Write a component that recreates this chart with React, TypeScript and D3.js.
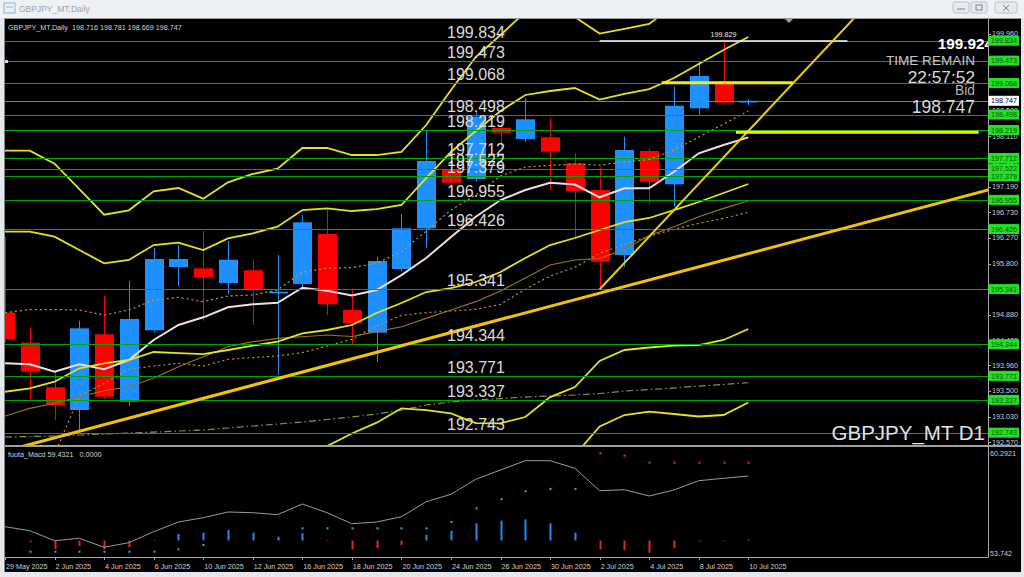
import React from "react";
import * as d3 from "d3";

const symbol = "GBPJPY_MT";
const dates = ["29 May 2025","30 May 2025","2 Jun 2025","3 Jun 2025","4 Jun 2025","5 Jun 2025","6 Jun 2025","9 Jun 2025","10 Jun 2025","11 Jun 2025","12 Jun 2025","13 Jun 2025","16 Jun 2025","17 Jun 2025","18 Jun 2025","19 Jun 2025","20 Jun 2025","23 Jun 2025","24 Jun 2025","25 Jun 2025","26 Jun 2025","27 Jun 2025","30 Jun 2025","1 Jul 2025","2 Jul 2025","3 Jul 2025","4 Jul 2025","7 Jul 2025","8 Jul 2025","9 Jul 2025","10 Jul 2025"];

const opens = [194.914,194.371,193.564,193.153,194.523,193.304,194.595,195.740,195.717,195.451,195.681,195.265,195.433,196.337,194.962,194.552,195.704,196.440,197.495,197.332,198.255,198.056,198.087,197.616,197.133,195.957,197.839,197.236,198.611,199.092,198.716];
const highs = [196.288,194.642,193.841,194.769,195.216,195.487,196.089,196.133,196.392,196.211,195.861,195.957,196.681,196.771,195.324,195.927,196.699,198.201,197.530,198.550,198.400,198.792,198.430,197.797,197.526,198.097,197.888,199.002,199.454,199.829,198.781];
const lows = [194.380,193.352,192.973,192.792,193.347,193.231,194.559,195.397,194.769,195.246,194.691,193.787,195.373,194.872,194.329,194.022,195.668,196.079,197.230,197.280,197.857,198.007,197.133,196.288,195.355,195.746,196.875,196.831,198.490,198.680,198.669];
const closes = [194.432,193.846,193.244,194.631,193.394,194.800,195.885,195.885,195.559,195.872,195.337,195.293,196.549,195.066,194.722,195.849,196.440,197.658,197.265,198.459,198.170,198.412,197.826,197.115,195.836,197.857,197.283,198.658,199.195,198.716,198.747];

// indicator bands / moving averages
const bandUpperOuter = [197.844,197.844,197.609,197.151,196.686,196.766,197.110,197.169,196.976,197.272,197.423,197.518,197.893,197.893,197.766,197.766,197.821,198.309,198.942,199.539,199.937,200.353,200.534,200.263,199.964,200.046,200.136,200.480,200.842,201.020,201.110];
const bandUpperInner = [196.379,196.379,196.288,196.048,195.807,195.867,196.138,196.180,196.048,196.259,196.350,196.469,196.771,196.802,196.753,196.789,196.862,197.350,197.821,198.200,198.562,198.852,198.924,198.978,198.770,198.870,198.960,199.159,199.413,199.666,199.901];
const bandLowerInner = [193.484,193.546,193.665,193.908,193.998,194.058,194.203,194.184,194.166,194.239,194.317,194.389,194.541,194.601,194.691,194.908,195.089,195.288,195.360,195.469,195.650,195.903,196.138,196.265,196.410,196.554,196.627,196.771,196.916,197.079,197.242];
const bandLowerOuter = [191.978,191.978,191.923,191.833,191.742,191.760,191.887,191.923,191.887,191.996,192.068,192.140,192.285,192.502,192.728,192.924,193.184,193.153,193.094,192.918,192.913,193.027,193.388,193.569,194.040,194.239,194.284,194.317,194.329,194.420,194.619];
const bandLowest = [null,null,null,null,null,null,null,null,null,null,null,null,null,null,null,null,null,null,null,null,null,null,191.900,192.339,192.855,193.063,193.123,193.081,193.036,193.063,193.289];
const maFast = [193.998,193.980,193.846,193.980,193.890,194.058,194.420,194.691,194.830,195.011,195.065,195.094,195.366,195.311,195.225,195.324,195.595,195.903,196.283,196.650,196.952,197.133,197.265,197.233,197.001,197.164,197.164,197.464,197.797,197.947,198.086];
const maSlow = [193.045,193.184,193.275,193.394,193.502,193.575,193.727,193.937,194.118,194.298,194.389,194.450,194.479,194.510,194.483,194.570,194.660,194.812,194.962,195.113,195.306,195.541,195.776,195.867,195.894,196.057,196.310,196.469,196.650,196.802,196.934];
const dottedUpper = [194.913,194.971,194.971,194.962,194.872,194.962,195.143,195.192,195.113,195.216,195.234,195.324,195.650,195.717,195.731,195.807,196.017,196.391,196.771,197.043,197.386,197.549,197.576,197.604,197.585,197.640,197.685,197.857,198.092,198.327,198.562];
const dottedLower = [191.900,192.100,192.350,193.407,193.636,193.890,193.949,193.998,193.949,194.070,194.101,194.130,194.192,194.311,194.432,194.673,194.866,194.915,194.944,194.975,195.065,195.337,195.577,195.735,195.988,196.151,196.296,196.422,196.531,196.621,196.730];
const dashDot = [192.665,192.674,192.683,192.701,192.719,192.737,192.755,192.773,192.792,192.828,192.864,192.900,192.936,192.982,193.027,193.081,193.153,193.244,193.298,193.334,193.361,193.388,193.407,193.425,193.452,193.497,193.524,193.551,193.587,193.615,193.647];

// horizontal levels (objects)
const levels = [199.834,199.473,199.068,198.498,198.219,197.712,197.522,197.379,196.955,196.426,195.341,194.344,193.771,193.337,192.743];
const axisTicks = [199.960,199.500,199.040,198.580,198.110,197.650,197.190,196.730,196.270,195.800,195.340,194.880,194.420,193.960,193.500,193.030,192.570];
const bidPrice = 198.747;
const highMark = { from: 24, to: 34, price: 199.829, labelAt: 29 };
const yellowSegments = [
  { from: 26.5, to: 31.8, price: 199.074 },
  { from: 29.5, to: 39.3, price: 198.177 },
];
const trendLines = [
  { a: { i: 24, p: 195.337 }, b: { i: 35, p: 200.59 }, w: 2, c: "#e8d200" },
  { a: { i: -1, p: 192.293 }, b: { i: 40, p: 197.172 }, w: 3, c: "#f2c400" },
];
const infoTexts = { price: "199.924", timeLabel: "TIME REMAIN", time: "22:57:52", bidLabel: "Bid" };

// MACD panel
const macdName = "fuuta_Macd";
const macdReadout = ["59.4321", "0.0000"];
const macdAxis = [60.2921, 53.742];
const macdZero = 54.682;
const macdLine = [55.519,55.276,54.670,54.815,54.270,54.549,55.216,55.804,56.065,56.411,56.368,56.247,56.896,56.368,55.701,55.804,56.125,57.035,57.484,58.394,58.958,59.522,59.522,59.061,57.702,57.763,57.381,57.745,58.309,58.454,58.594];
const macdHist = [null,-0.10,-0.515,-0.334,-0.534,-0.412,-0.03,0.394,0.473,0.637,0.473,0.230,0.437,-0.03,-0.534,-0.473,-0.273,0.334,0.594,1.043,1.201,1.286,1.043,0.473,-0.534,-0.576,-0.740,-0.473,-0.06,0.03,0.05];
const macdUpDots = [null,54.003,54.003,54.003,54.003,54.003,54.003,54.148,54.409,null,null,null,55.422,55.422,55.422,55.422,55.422,55.422,55.804,56.635,57.187,57.666,57.805,57.805,null,null,null,null,null,null,null];
const macdDownDots = [null,null,null,null,null,null,null,null,null,null,null,null,null,null,null,null,null,null,null,null,null,null,null,null,59.971,59.825,59.401,59.401,59.401,59.401,59.401];

const F = "'Liberation Sans', Arial, sans-serif";

export default function App() {
  React.useEffect(() => {
    document.body.style.margin = "0";
  }, []);

  const W = 1024, H = 577;
  const plot = { l: 5, r: 988, t: 19, b: 445 };
  const mp = { t: 447.5, b: 557 };

  const x = d3.scaleLinear().domain([0, 30]).range([5, 748.3]);
  const y = d3.scaleLinear().domain([192.743, 199.834]).range([432.7, 40.7]);
  const ym = d3.scaleLinear().domain([53.742, 60.2921]).range([556, 448]);

  const mkLine = (arr: (number | null)[], sc: (v: number) => number) =>
    d3.line<number | null>().defined((d) => d != null).x((_, i) => x(i)).y((d) => sc(d as number))(arr) || "";

  const last = opens.length - 1;
  const header = `${symbol},Daily  ${opens[last].toFixed(3)} ${highs[last].toFixed(3)} ${lows[last].toFixed(3)} ${closes[last].toFixed(3)}`;
  const bw = 19;

  return (
    <svg width={W} height={H} style={{ position: "absolute", left: 0, top: 0, display: "block" }} fontFamily={F}>
      <defs>
        <clipPath id="mainClip"><rect x={plot.l} y={plot.t} width={plot.r - plot.l} height={plot.b - plot.t} /></clipPath>
        <clipPath id="macdClip"><rect x={plot.l} y={mp.t} width={plot.r - plot.l} height={mp.b - mp.t} /></clipPath>
      </defs>
      {/* window frame */}
      <rect x={0} y={0} width={W} height={H} fill="#e4e8ec" />
      <rect x={0} y={0} width={W} height={18} fill="#eef1f4" />
      <rect x={4} y={3} width={11} height={10} fill="none" stroke="#8fb0d0" strokeWidth={1} />
      <line x1={6} x2={13} y1={7} y2={7} stroke="#8fb0d0" />
      <text x={19} y={12} fontSize={8.5} fill="#9aa3ad">{symbol},Daily</text>
      {[{ x: 953, w: 16 }, { x: 971, w: 16 }, { x: 995, w: 22 }].map((b, k) => (
        <rect key={k} x={b.x} y={2} width={b.w} height={11} rx={2} fill="#e6eaee" stroke="#b8c0c8" />
      ))}
      <line x1={957} x2={965} y1={9} y2={9} stroke="#7a8590" />
      <rect x={976} y={5} width={6} height={5} fill="none" stroke="#7a8590" />
      <path d="M1003,5 L1009,11 M1009,5 L1003,11" stroke="#7a8590" />

      {/* black chart area */}
      <rect x={5} y={19} width={1016} height={553} fill="#000" />
      <line x1={4.5} x2={4.5} y1={18} y2={572} stroke="#8a8a8a" />
      <line x1={4} x2={1021} y1={18.5} y2={18.5} stroke="#9a9a9a" />

      {/* main plot */}
      <g clipPath="url(#mainClip)">
        {/* candles */}
        {opens.map((o, i) => {
          const c = closes[i];
          const up = c >= o;
          const col = up ? "#1e90ff" : "#ff0000";
          const cx = Math.round(x(i)) + 0.5;
          const top = y(Math.max(o, c));
          const bot = y(Math.min(o, c));
          return (
            <g key={i}>
              <line x1={cx} x2={cx} y1={y(highs[i])} y2={y(lows[i])} stroke={col} strokeWidth={1} />
              <rect x={cx - bw / 2} y={top} width={bw} height={Math.max(1.5, bot - top)} fill={col} />
            </g>
          );
        })}
        {/* indicators */}
        <path d={mkLine(dashDot, y)} fill="none" stroke="#7c9a3a" strokeWidth={1.2} strokeDasharray="7,3,1.5,3" />
        <path d={mkLine(dottedLower, y)} fill="none" stroke="#c8961e" strokeWidth={1.2} strokeDasharray="2,3" />
        <path d={mkLine(dottedUpper, y)} fill="none" stroke="#d29a22" strokeWidth={1.2} strokeDasharray="2,3" />
        <path d={mkLine(maSlow, y)} fill="none" stroke="#9a7420" strokeWidth={1.2} />
        <path d={mkLine(maFast, y)} fill="none" stroke="#f2dede" strokeWidth={2} />
        {[bandUpperOuter, bandUpperInner, bandLowerInner, bandLowerOuter, bandLowest].map((b, k) => (
          <path key={k} d={mkLine(b, y)} fill="none" stroke="#e4e41c" strokeWidth={1.8} />
        ))}
        {/* horizontal level lines */}
        {levels.map((lv, k) => (
          <line key={k} x1={plot.l} x2={plot.r} y1={Math.round(y(lv)) + 0.5} y2={Math.round(y(lv)) + 0.5} stroke="#00a800" strokeWidth={1} />
        ))}
        <line x1={plot.l} x2={plot.r} y1={Math.round(y(bidPrice)) + 0.5} y2={Math.round(y(bidPrice)) + 0.5} stroke="#808080" strokeWidth={1} />
        <rect x={5} y={Math.round(y(levels[1])) - 1} width={3} height={3} fill="#a0ffa0" />
        {/* high marker */}
        <line x1={x(highMark.from)} x2={x(highMark.to)} y1={y(highMark.price)} y2={y(highMark.price)} stroke="#ffffff" strokeWidth={1.5} />
        <text x={x(highMark.labelAt)} y={y(highMark.price) - 4} fontSize={7.2} fill="#e8e8e8" textAnchor="middle">{highMark.price.toFixed(3)}</text>
        {/* trend lines */}
        {trendLines.map((t, k) => (
          <line key={k} x1={x(t.a.i)} y1={y(t.a.p)} x2={x(t.b.i)} y2={y(t.b.p)} stroke={t.c} strokeWidth={t.w} />
        ))}
        {yellowSegments.map((s, k) => (
          <line key={k} x1={x(s.from)} x2={x(s.to)} y1={y(s.price)} y2={y(s.price)} stroke="#f4f000" strokeWidth={3} />
        ))}
        {/* level labels */}
        {levels.map((lv, k) => (
          <text key={k} x={447} y={y(lv) - 3} fontSize={16} fill="#dadada">{lv.toFixed(3)}</text>
        ))}
        {/* info block */}
        <text x={993} y={48.5} fontSize={15.3} fontWeight="bold" fill="#ffffff" textAnchor="end">{infoTexts.price}</text>
        <text x={975} y={65} fontSize={13.6} fill="#c4c4c4" textAnchor="end">{infoTexts.timeLabel}</text>
        <text x={975} y={83} fontSize={17.3} fill="#d8d8d8" textAnchor="end">{infoTexts.time}</text>
        <text x={975} y={95} fontSize={13.8} fill="#b4b4b4" textAnchor="end">{infoTexts.bidLabel}</text>
        <text x={975} y={113} fontSize={17.5} fill="#d8d8d8" textAnchor="end">{bidPrice.toFixed(3)}</text>
        <text x={985} y={440} fontSize={20.5} fill="#e2e2e2" textAnchor="end">{symbol} D1</text>
        <path d="M785,19 L793,19 L789,23 Z" fill="#a0a0a0" />
        <text x={8} y={30} fontSize={7.2} fill="#d4d4d4" style={{ whiteSpace: "pre" }}>{header}</text>
      </g>

      {/* panel separator */}
      <rect x={5} y={445} width={1016} height={2} fill="#a0a0a0" />

      {/* MACD panel */}
      <g clipPath="url(#macdClip)">
        {macdHist.map((h, i) =>
          h == null ? null : (
            <line key={i} x1={Math.round(x(i)) + 0.5} x2={Math.round(x(i)) + 0.5} y1={ym(macdZero)} y2={ym(macdZero + h) + (h === 0 ? 1 : 0)}
              stroke={h >= 0 ? "#2a8ae8" : "#e8202a"} strokeWidth={2} />
          )
        )}
        <path d={mkLine(macdLine, ym)} fill="none" stroke="#9a9a9a" strokeWidth={1} />
        {macdUpDots.map((v, i) => v == null ? null : (
          <rect key={i} x={Math.round(x(i)) - 0.5} y={ym(v) - 1} width={2} height={2} fill="#22b8c8" />
        ))}
        {macdDownDots.map((v, i) => v == null ? null : (
          <rect key={i} x={Math.round(x(i)) - 0.5} y={ym(v) - 1} width={2} height={2} fill="#d8306a" />
        ))}
        <text x={8} y={457} fontSize={7.2} fill="#d4d4d4" style={{ whiteSpace: "pre" }}>{`${macdName} ${macdReadout[0]}   ${macdReadout[1]}`}</text>
      </g>

      {/* right axis */}
      <line x1={988.5} x2={988.5} y1={19} y2={557} stroke="#a8a8a8" />
      <line x1={5} x2={988.5} y1={557.5} y2={557.5} stroke="#a8a8a8" />
      {axisTicks.map((v, k) => (
        <g key={k}>
          <line x1={988} x2={991} y1={Math.round(y(v)) + 0.5} y2={Math.round(y(v)) + 0.5} stroke="#a8a8a8" />
          <text x={992} y={y(v) + 2.6} fontSize={7.2} fill="#d0d0d0">{v.toFixed(3)}</text>
        </g>
      ))}
      {levels.map((lv, k) => (
        <g key={k}>
          <rect x={988.5} y={y(lv) - 5} width={30.5} height={10} fill="#22e022" />
          <text x={991} y={y(lv) + 2.7} fontSize={7.2} fill="#0a520a">{lv.toFixed(3)}</text>
        </g>
      ))}
      <rect x={988.5} y={y(bidPrice) - 5} width={30.5} height={10} fill="#ffffff" />
      <text x={991} y={y(bidPrice) + 2.7} fontSize={7.2} fill="#000000">{bidPrice.toFixed(3)}</text>
      <text x={990} y={456} fontSize={7.2} fill="#d0d0d0">{macdAxis[0].toFixed(4)}</text>
      <text x={990} y={556} fontSize={7.2} fill="#d0d0d0">{macdAxis[1].toFixed(3)}</text>

      {/* date axis */}
      {dates.map((d, i) =>
        i % 2 === 0 ? (
          <g key={i}>
            <line x1={Math.round(x(i)) + 0.5} x2={Math.round(x(i)) + 0.5} y1={557} y2={560} stroke="#a8a8a8" />
            <text x={x(i) + 1} y={569} fontSize={7.2} fill="#d0d0d0">{d}</text>
          </g>
        ) : null
      )}
    </svg>
  );
}
